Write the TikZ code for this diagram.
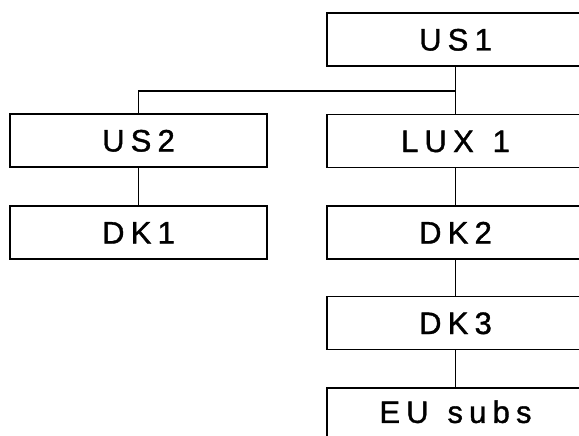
\documentclass[tikz,border=0pt]{standalone}
\usepackage{fontspec}
\setmainfont{Liberation Sans}[LetterSpace=20, FakeBold=1.2]
\begin{document}
\begin{tikzpicture}[x=1pt,y=-1pt,
  box/.style={draw, line width=1.8pt, minimum width=257pt, minimum height=53pt,
    inner sep=0pt, font=\fontsize{31}{36}\selectfont, text height=22pt, text depth=0pt},
  link/.style={line width=1.6pt}]
\useasboundingbox (0,0) rectangle (579,436);
\clip (0,0) rectangle (579,436);
\node[box] (us1)  at (455.5,39.5)  {US1};
\node[box] (us2)  at (138.5,140.5) {US2};
\node[box] (lux1) at (455.5,141)   {LUX\hspace{4pt} 1};
\node[box] (dk1)  at (138.5,232.5) {DK1};
\node[box] (dk2)  at (455.5,232.5) {DK2};
\node[box] (dk3)  at (455.5,323)   {DK3};
\node[box, anchor=north, minimum height=0pt, inner ysep=13pt, text depth=40pt] (eu) at (455.5,387) {EU\hspace{4pt} subs};
\coordinate (j) at (455.5,91);
\draw[link] (us1.south) -- (lux1.north);
\draw[link] (us2.north) |- (j);
\draw[link] (us2.south) -- (dk1.north);
\draw[link] (lux1.south) -- (dk2.north);
\draw[link] (dk2.south) -- (dk3.north);
\draw[link] (dk3.south) -- (eu.north);
\end{tikzpicture}
\end{document}
